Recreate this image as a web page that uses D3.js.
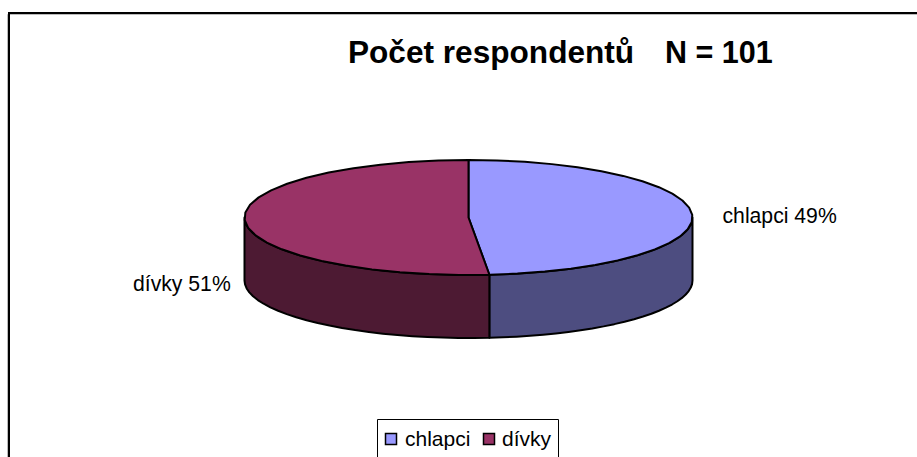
<!DOCTYPE html>
<html>
<head>
<meta charset="utf-8">
<script src="https://cdn.jsdelivr.net/npm/d3@7"></script>
<style>
  html, body { margin: 0; padding: 0; background: #fff; overflow: hidden; }
  text { font-family: "Liberation Sans", Arial, sans-serif; fill: #000; }
</style>
</head>
<body>
<div id="viz_container"></div>
<script>
// data
const categories = ["chlapci", "dívky"];
const counts = [49, 52];
const topColors = ["#9999FF", "#993366"];
const sideColors = ["#4D4D80", "#4D1A33"];
const total = d3.sum(counts);

const width = 917, height = 457;
const svg = d3.select("#viz_container")
  .append("svg")
  .attr("width", width)
  .attr("height", height)
  .style("display", "block");

// outer frame, runs off the right and bottom of the picture
const frame = svg.append("g").attr("fill", "none");
frame.append("path").attr("d", "M7.5,457V14.5H917").attr("stroke", "#bbb").attr("stroke-width", 1);
frame.append("path").attr("d", "M9,457V13H917").attr("stroke", "#000").attr("stroke-width", 2);

// title
const title = svg.append("text")
  .attr("y", 63)
  .style("font-weight", "bold");
title.append("tspan").attr("x", 348).style("font-size", "31.6px").text("Počet respondentů");
title.append("tspan").attr("x", 665).style("font-size", "30.5px").text("N = " + total);

// pie geometry
const cx = 468.5, cy = 217.5, rx = 224, ry = 57.5, depth = 63;
const pie = d3.pie().sort(null)(counts);

// angle 0 is at the top, going clockwise, squashed to an ellipse
const onRim = (a, dy = 0) => [cx + rx * Math.sin(a), cy - ry * Math.cos(a) + dy];
const rim = (a0, a1, dy = 0) => d3.range(0, 25).map(i => onRim(a0 + (a1 - a0) * i / 24, dy));
const line = d3.line();

// sides, only the front half of the rim is visible
const sides = svg.append("g").attr("stroke", "#000").attr("stroke-width", 2).attr("stroke-linejoin", "round");
sides.selectAll("path")
  .data(pie)
  .join("path")
  .attr("fill", d => sideColors[d.index])
  .attr("d", d => {
    const a0 = Math.max(d.startAngle, Math.PI / 2);
    const a1 = Math.min(d.endAngle, Math.PI * 1.5);
    return line(rim(a0, a1).concat(rim(a1, a0, depth))) + "Z";
  });

// top face
const faces = svg.append("g").attr("stroke", "#000").attr("stroke-width", 2).attr("stroke-linejoin", "round");
faces.selectAll("path")
  .data(pie)
  .join("path")
  .attr("fill", d => topColors[d.index])
  .attr("d", d => line([[cx, cy]].concat(rim(d.startAngle, d.endAngle))) + "Z");

// slice labels
const labelPos = [[722.5, 223], [133, 291]];
svg.selectAll(".slice-label")
  .data(pie)
  .join("text")
  .attr("class", "slice-label")
  .attr("x", d => labelPos[d.index][0])
  .attr("y", d => labelPos[d.index][1])
  .style("font-size", "21.2px")
  .text(d => categories[d.index] + " " + d3.format(".0f")(d.value / total * 100) + "%");

// legend
const legend = svg.append("g");
legend.append("path")
  .attr("d", "M377.5,457V419.5H558.5V457")
  .attr("fill", "#fff")
  .attr("stroke", "#000")
  .attr("stroke-width", 1);
const legendX = [385, 483];
legend.selectAll("rect")
  .data(categories)
  .join("rect")
  .attr("x", (d, i) => legendX[i] + 0.5)
  .attr("y", 433.5)
  .attr("width", 11)
  .attr("height", 11)
  .attr("fill", (d, i) => topColors[i])
  .attr("stroke", "#000")
  .attr("stroke-width", 1.5);
legend.selectAll("text")
  .data(categories)
  .join("text")
  .attr("x", (d, i) => legendX[i] + (i ? 19 : 20))
  .attr("y", 446)
  .style("font-size", "21px")
  .text(d => d);
</script>
</body>
</html>
